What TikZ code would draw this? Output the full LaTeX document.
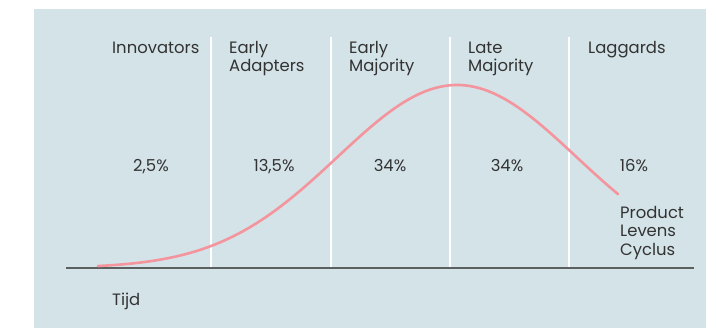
\documentclass[tikz,border=0pt]{standalone}
\usepackage{fontspec}
\setmainfont{Poppins}
\definecolor{panel}{HTML}{D3E3E8}
\definecolor{curve}{HTML}{F4959D}
\definecolor{axis}{HTML}{5B5F60}
\definecolor{ink}{HTML}{333333}
\begin{document}
\begin{tikzpicture}[x=1bp,y=-1bp, line join=round,
  lbl/.style={anchor=base west, inner sep=0pt, align=left, text=ink, font=\fontsize{16.5}{18.4}\selectfont},
  pct/.style={anchor=base, inner sep=0pt, text=ink, font=\fontsize{16.5}{18.4}\selectfont}]
\useasboundingbox (0,0) rectangle (716,328);
\fill[panel] (34,9) rectangle (706,328);
\foreach \x in {211,331,450,569} \draw[white, line width=1.2bp] (\x,37)--(\x,267);
\draw[axis, line width=2bp] (66,268)--(694,268);
\draw[curve, line width=2.6bp, line cap=round, domain=98:618, samples=120]
  plot (\x,{268-183*exp(-((\x-457)/119.5)^2/2)});
% base of a two/three line label = last line
\node[lbl] (innov) at (112,53) {Innovators};
\node[lbl] (adapt) at (229,71.7) {Early\\Adapters};
\node[lbl] (emaj) at (349,71.7) {Early\\Majority};
\node[lbl] (lmaj) at (468,71.7) {Late\\Majority};
\node[lbl] (lagg) at (588,53) {Laggards};
\node[pct] (p1) at (151,171) {2,5\%};
\node[pct] (p2) at (274,171) {13,5\%};
\node[pct] (p3) at (390,171) {34\%};
\node[pct] (p4) at (507,171) {34\%};
\node[pct] (p5) at (634,171) {16\%};
\node[lbl] (plc) at (620,255) {Product\\Levens\\Cyclus};
\node[lbl] (tijd) at (112,305) {Tijd};
\end{tikzpicture}
\end{document}
